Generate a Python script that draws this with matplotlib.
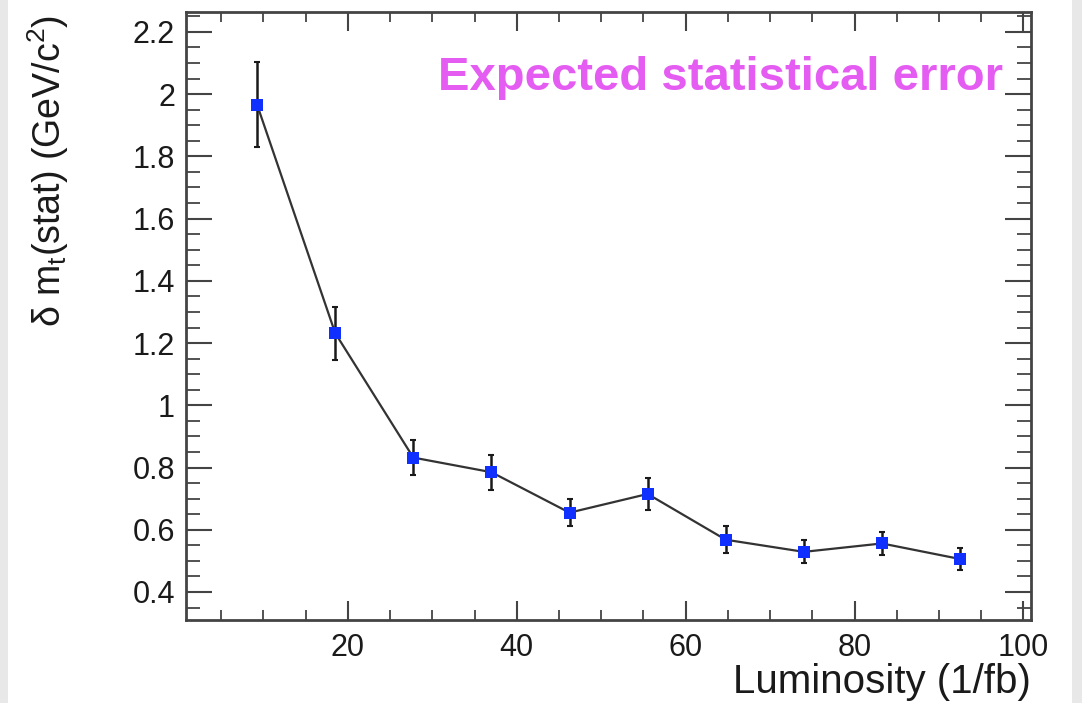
import matplotlib
matplotlib.use("Agg")
import matplotlib.pyplot as plt
from matplotlib.ticker import MultipleLocator
from matplotlib.patches import Rectangle

plt.rcParams['font.family'] = ['Liberation Sans', 'DejaVu Sans']
plt.rcParams['mathtext.fontset'] = 'custom'
plt.rcParams['mathtext.rm'] = 'Liberation Sans'
plt.rcParams['mathtext.it'] = 'Liberation Sans'

# Data
luminosity = [9.25, 18.5, 27.75, 37.0, 46.25, 55.5, 64.75, 74.0, 83.25, 92.5]
dm_stat = [1.966, 1.232, 0.832, 0.785, 0.655, 0.715, 0.568, 0.529, 0.556, 0.506]
dm_err = [0.137, 0.085, 0.057, 0.056, 0.044, 0.051, 0.043, 0.037, 0.037, 0.036]

x_ticks = [20, 40, 60, 80, 100]
y_ticks = [0.4, 0.6, 0.8, 1.0, 1.2, 1.4, 1.6, 1.8, 2.0, 2.2]
y_tick_labels = ['0.4', '0.6', '0.8', '1', '1.2', '1.4', '1.6', '1.8', '2', '2.2']

fig = plt.figure(figsize=(10.82, 7.03), dpi=100)
fig.patch.set_facecolor('white')
# light gray side strips
fig.patches.append(Rectangle((0, 0), 8 / 1082, 1, transform=fig.transFigure,
                             facecolor='#e8e8e8', edgecolor='none', zorder=0))
fig.patches.append(Rectangle((1072 / 1082, 0), 10 / 1082, 1, transform=fig.transFigure,
                             facecolor='#e8e8e8', edgecolor='none', zorder=0))

ax = fig.add_axes([186 / 1082, 1 - 620 / 703, (1031 - 186) / 1082, (620 - 12) / 703])

ax.errorbar(luminosity, dm_stat, yerr=dm_err, fmt='none', ecolor='#1a1a1a',
            elinewidth=1.8, capsize=2.5, capthick=1.5, zorder=2)
ax.plot(luminosity, dm_stat, '-', color='#333333', lw=1.6, zorder=1)
ax.plot(luminosity, dm_stat, 's', color='#1030ff', markersize=9,
        markeredgewidth=0, zorder=3)

ax.set_xlim(0.83, 100.9)
ax.set_ylim(0.31, 2.264)

ax.set_xticks(x_ticks)
ax.set_xticklabels([str(t) for t in x_ticks])
ax.xaxis.set_minor_locator(MultipleLocator(5))
ax.set_yticks(y_ticks)
ax.set_yticklabels(y_tick_labels)
ax.yaxis.set_minor_locator(MultipleLocator(0.05))

ax.tick_params(axis='both', which='both', direction='in', top=True, right=True,
               color='#444444', labelcolor='#1a1a1a', labelsize=22)
ax.tick_params(axis='x', which='major', length=14, width=1.5, pad=9)
ax.tick_params(axis='x', which='minor', length=7, width=1.3)
ax.tick_params(axis='y', which='major', length=19, width=1.5, pad=8)
ax.tick_params(axis='y', which='minor', length=10, width=1.3)

for s in ax.spines.values():
    s.set_color('#444444')
    s.set_linewidth(2)

ax.set_xlabel('Luminosity (1/fb)', fontsize=29, color='#1a1a1a')
ax.xaxis.set_label_coords(1.0, -0.07)
ax.xaxis.label.set_horizontalalignment('right')

ax.set_ylabel(r'δ m$_{\mathrm{t}}$(stat) (GeV/c$^{\mathrm{2}}$)', fontsize=27, color='#1a1a1a')
ax.yaxis.set_label_coords(-0.136, 0.995)
ax.yaxis.label.set_horizontalalignment('right')

ax.text(0.967, 0.891, 'Expected statistical error', transform=ax.transAxes,
        ha='right', va='center', fontsize=34, fontweight='bold', color='#e45cf2')

fig.savefig('out.png', dpi=100)
